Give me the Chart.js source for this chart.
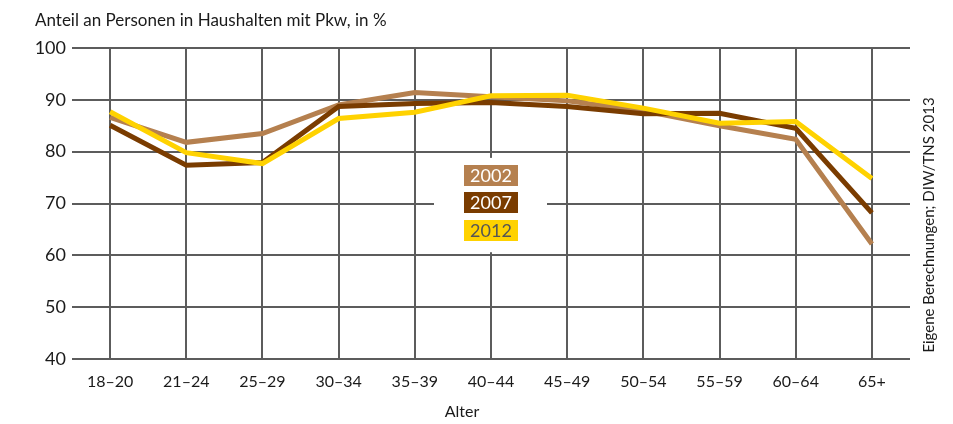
<!DOCTYPE html>
<html>
<head>
<meta charset="utf-8">
<script src="https://cdn.jsdelivr.net/npm/chart.js@4/dist/chart.umd.min.js"></script>
<style>
html,body{margin:0;padding:0;background:#fff;}
#wrap{width:953px;height:424px;position:relative;}
</style>
</head>
<body>
<div id="wrap"><canvas id="c" width="953" height="424"></canvas></div>
<script>
const categories = ["18–20","21–24","25–29","30–34","35–39","40–44","45–49","50–54","55–59","60–64","65+"];
const series2002 = [86.6, 81.8, 83.5, 89.0, 91.4, 90.6, 89.8, 87.9, 85.0, 82.4, 62.2];
const series2007 = [85.1, 77.4, 77.9, 88.7, 89.3, 89.5, 88.7, 87.3, 87.4, 84.5, 68.2];
const series2012 = [87.7, 79.8, 77.7, 86.4, 87.6, 90.8, 90.9, 88.4, 85.5, 85.8, 74.8];
const yTicks = [40, 50, 60, 70, 80, 90, 100];
const seriesNames = ["2002", "2007", "2012"];
const colors = ["#B5804F", "#7A3C00", "#FFD200"];
const legendText = ["#ffffff", "#ffffff", "#555555"];

const FONT = "Lato, 'Open Sans', sans-serif";
const GRID = "#5c5c5c";

const overlay = {
  id: 'overlay',
  beforeDatasetsDraw(chart) {
    const ctx = chart.ctx;
    const xs = chart.scales.x, ys = chart.scales.y;
    const cx = xs.getPixelForValue(5);
    ctx.save();
    ctx.fillStyle = "#ffffff";
    ctx.fillRect(cx - 57, ys.getPixelForValue(78.8), 113, ys.getPixelForValue(60.6) - ys.getPixelForValue(78.8));
    const boxTop = [165, 192, 220];
    ctx.font = "18px " + FONT;
    ctx.textAlign = "center";
    ctx.textBaseline = "middle";
    for (let i = 0; i < 3; i++) {
      ctx.fillStyle = colors[i];
      ctx.fillRect(cx - 27, boxTop[i], 54, 21);
      ctx.fillStyle = legendText[i];
      ctx.fillText(seriesNames[i], cx, boxTop[i] + 11);
    }
    ctx.restore();
  },
  afterDraw(chart) {
    const ctx = chart.ctx;
    ctx.save();
    ctx.fillStyle = "#1a1a1a";
    ctx.font = "17px " + FONT;
    ctx.textAlign = "left";
    ctx.textBaseline = "middle";
    ctx.fillText("Anteil an Personen in Haushalten mit Pkw, in %", 35, 21);
    ctx.textAlign = "center";
    ctx.font = "16px " + FONT;
    ctx.fillText("Alter", 462, 412);
    ctx.translate(929, 225);
    ctx.rotate(-Math.PI / 2);
    ctx.font = "15px " + FONT;
    ctx.fillText("Eigene Berechnungen; DIW/TNS 2013", 0, 0);
    ctx.restore();
  }
};

new Chart(document.getElementById('c'), {
  type: 'line',
  data: {
    labels: categories,
    datasets: [series2002, series2007, series2012].map((d, i) => ({
      label: seriesNames[i],
      data: d,
      borderColor: colors[i],
      backgroundColor: colors[i],
      borderWidth: 5,
      pointRadius: 0,
      tension: 0,
      fill: false,
      order: 3 - i
    }))
  },
  options: {
    responsive: false,
    animation: false,
    layout: { padding: { left: 0, top: 48, right: 43, bottom: 0 } },
    plugins: { legend: { display: false }, tooltip: { enabled: false }, title: { display: false } },
    scales: {
      x: {
        offset: true,
        grid: { offset: false, color: GRID, lineWidth: 2, drawTicks: false },
        border: { display: false },
        ticks: { color: "#1a1a1a", font: { family: FONT, size: 16 }, padding: 13, maxRotation: 0, autoSkip: false },
        afterFit(s) { s.height = 65; }
      },
      y: {
        min: 40, max: 100,
        afterBuildTicks(s) { s.ticks = yTicks.map(v => ({ value: v })); },
        grid: { color: GRID, lineWidth: 2, drawTicks: false },
        border: { display: false },
        ticks: { color: "#1a1a1a", font: { family: FONT, size: 18 }, padding: 6 },
        afterFit(s) { s.width = 72; }
      }
    }
  },
  plugins: [overlay]
});
</script>
</body>
</html>
